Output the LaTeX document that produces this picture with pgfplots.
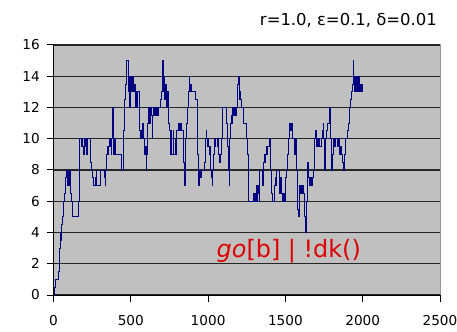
\documentclass[border=0pt]{standalone}
\usepackage{fontspec}
\setmainfont{DejaVu Sans}
\usepackage{pgfplots}
\pgfplotsset{compat=1.18}
\definecolor{plotbg}{RGB}{192,192,192}
\definecolor{framegray}{RGB}{150,150,150}
\definecolor{walkblue}{RGB}{0,0,128}
\definecolor{labelred}{RGB}{221,0,0}
\begin{document}
\begin{tikzpicture}
\begin{axis}[
  scale only axis, width=386.5bp, height=250bp,
  xmin=0, xmax=2500, ymin=0, ymax=16,
  xtick={0,500,...,2500}, ytick={0,2,...,16},
  axis lines=left, axis line style={-, black, line width=1bp},
  axis background/.style={fill=plotbg, draw=framegray, line width=1bp},
  ymajorgrids, major grid style={black!85, line width=1.3bp},
  tick align=outside, major tick length=6.5bp,
  tick style={black, line width=1bp},
  /pgf/number format/assume math mode=true,
  /pgf/number format/1000 sep={},
  tick label style={font=\fontsize{13.7}{16}\selectfont, inner sep=0pt},
  xticklabel style={anchor=north},
  yticklabel style={anchor=east},
  xticklabel shift=13.5bp,
  yticklabel shift=7bp,
  clip=true,
]
\addplot[const plot, walkblue, line width=0.9bp] coordinates {
(0,0) (4,0.5) (10,1) (20,1) (31,1.5) (38,3) (42,4) (46,3.5) (52,4.5) (58,5)
(64,6) (70,6.5) (75,7) (80,7.5) (85,8) (88,7) (91,7.5) (94,8) (97,7) (100,7.5)
(103,8) (107,7) (112,6.5) (118,6) (124,5) (133,5) (145,5) (155,5) (161,6) (165,7.5)
(169,8) (171,10) (178,10) (182,9.5) (186,10) (190,9.5) (194,9) (198,9.5) (202,10) (206,9.5)
(210,10) (214,9) (218,9.5) (222,10) (228,10) (236,8.5) (243,8) (250,7.5) (258,7) (266,7)
(272,7.5) (276,8) (280,7) (288,7) (296,7) (301,7.5) (306,8) (312,8) (320,8) (327,7.5)
(333,7) (338,8) (344,9) (348,9.5) (352,9) (356,9.5) (360,10) (364,9.5) (368,10) (372,9)
(376,10) (380,12) (385,10) (390,9) (395,10) (398,9) (406,9) (416,9) (426,9) (434,9)
(441,8) (447,8) (452,10.5) (458,12.5) (464,13.5) (469,15) (476,15) (482,14) (486,13) (490,14)
(494,12) (498,14) (502,13) (506,14) (510,13) (514,14) (518,13) (522,13.5) (527,13) (531,12)
(535,13) (539,12) (543,13) (549,13) (553,11.5) (557,10.5) (562,10) (567,10.5) (572,10) (576,11)
(580,10) (585,10) (590,9) (594,9.5) (598,8) (602,9) (606,9.5) (610,11) (614,12) (618,11)
(622,12) (626,11) (630,12) (634,11.5) (638,10) (642,11.5) (646,12) (650,11.5) (654,12) (658,11.5)
(662,12) (666,11.5) (670,12) (676,11.5) (682,12) (688,12) (694,12.5) (698,13) (704,15) (708,14)
(712,13) (716,14) (720,12.5) (724,13.5) (728,13) (732,12) (738,13) (742,12) (746,11) (750,10.5)
(754,9) (758,9) (762,10.5) (766,9) (770,9) (774,10.5) (778,9) (782,9) (786,10) (790,9)
(794,10.5) (798,10.5) (804,10.5) (810,11) (816,10.5) (822,11) (830,10.5) (838,8.5) (845,7) (852,8)
(856,10) (862,11) (868,12) (874,13) (878,14) (882,13) (886,13.5) (890,13) (898,13) (906,13)
(913,13) (920,12.5) (928,11.5) (932,9) (935,8) (938,7) (942,7.5) (946,8) (950,7.5) (956,8)
(962,8) (968,8) (974,8.5) (980,9) (984,10) (988,10.5) (991,10) (994,9.5) (998,10) (1002,9.5)
(1006,9) (1010,9.5) (1014,8.5) (1018,8) (1022,7.5) (1026,7) (1030,8) (1034,9) (1038,9.5) (1042,10)
(1046,9.5) (1050,10) (1055,10) (1060,9.5) (1066,10) (1070,9) (1075,8.5) (1080,9) (1086,10) (1090,12)
(1098,12) (1106,12) (1114,12) (1120,11) (1124,10) (1128,9.5) (1132,8) (1136,7) (1140,10) (1144,11)
(1148,11.5) (1152,11) (1158,12) (1164,11.5) (1170,12) (1176,11.5) (1182,12) (1188,13) (1192,13.5) (1196,14)
(1200,13) (1204,12.5) (1208,13) (1212,12.5) (1216,12) (1222,12) (1228,11) (1236,11) (1244,11) (1250,10)
(1254,9) (1258,6) (1266,6) (1276,6) (1286,6) (1292,6.5) (1298,6) (1302,6.5) (1306,6) (1310,7)
(1314,6) (1318,7) (1322,6.5) (1326,7) (1330,6) (1334,8) (1342,8) (1348,8) (1354,7) (1360,8.5)
(1366,9) (1370,8.5) (1374,9) (1378,9.5) (1382,9) (1386,9.5) (1390,9.5) (1396,10) (1402,8) (1408,6.5)
(1414,6) (1420,6) (1426,6) (1430,7) (1434,7.5) (1438,7) (1442,8) (1448,8) (1454,8) (1460,6.5)
(1466,7) (1470,7.5) (1476,6.5) (1482,6) (1488,6.5) (1494,6) (1500,7.5) (1506,8) (1512,9) (1518,10)
(1524,11) (1528,10.5) (1532,11) (1536,10.5) (1540,11) (1545,10) (1550,10) (1556,9) (1562,9.5) (1566,10)
(1571,8) (1575,6.5) (1580,5.5) (1584,5) (1588,6.5) (1594,7) (1598,6.5) (1602,7) (1606,6.5) (1610,7)
(1614,6.5) (1620,6) (1624,5) (1628,4.5) (1631,4) (1636,6) (1640,8) (1644,8.5) (1648,7.5) (1653,7)
(1660,7.5) (1666,7) (1672,7.5) (1678,7.5) (1684,8) (1688,10) (1694,10.5) (1699,10) (1703,9.5) (1707,10)
(1712,9.5) (1716,10) (1720,9.5) (1726,9.5) (1732,10) (1738,10.5) (1744,11) (1748,10) (1751,9) (1754,8)
(1758,9) (1762,10) (1768,10.5) (1774,11) (1780,11) (1786,12) (1790,11) (1794,10) (1798,8) (1804,9)
(1809,10) (1815,10) (1820,9.5) (1826,10) (1832,10) (1838,9.5) (1843,10) (1848,9.5) (1852,9) (1856,9.5)
(1862,9) (1868,8.5) (1874,8) (1880,9) (1886,9.5) (1891,10) (1897,10) (1903,10.5) (1909,11) (1915,12)
(1921,12.5) (1927,13) (1933,13.5) (1938,15) (1942,14) (1946,13) (1950,14) (1954,13.5) (1958,14) (1962,13)
(1966,14) (1970,13.5) (1974,13) (1978,14) (1982,13) (1986,13.5) (1990,13) (1994,13.5) (1998,13) (2000,13)
};
\end{axis}
% run label and the red annotation
\node[anchor=base east, inner sep=0pt, font=\fontsize{16.5}{19}\selectfont] at (383.5bp,269bp) {r=1.0, ε=0.1, δ=0.01};
\node[anchor=base west, inner sep=0pt, text=labelred, font=\fontsize{24}{28}\selectfont] at (163bp,38bp) {\textit{go}[b] | !dk()};
\pgfresetboundingbox
\path (-53.5bp,-37bp) rectangle (403.5bp,295bp);
\end{tikzpicture}
\end{document}
